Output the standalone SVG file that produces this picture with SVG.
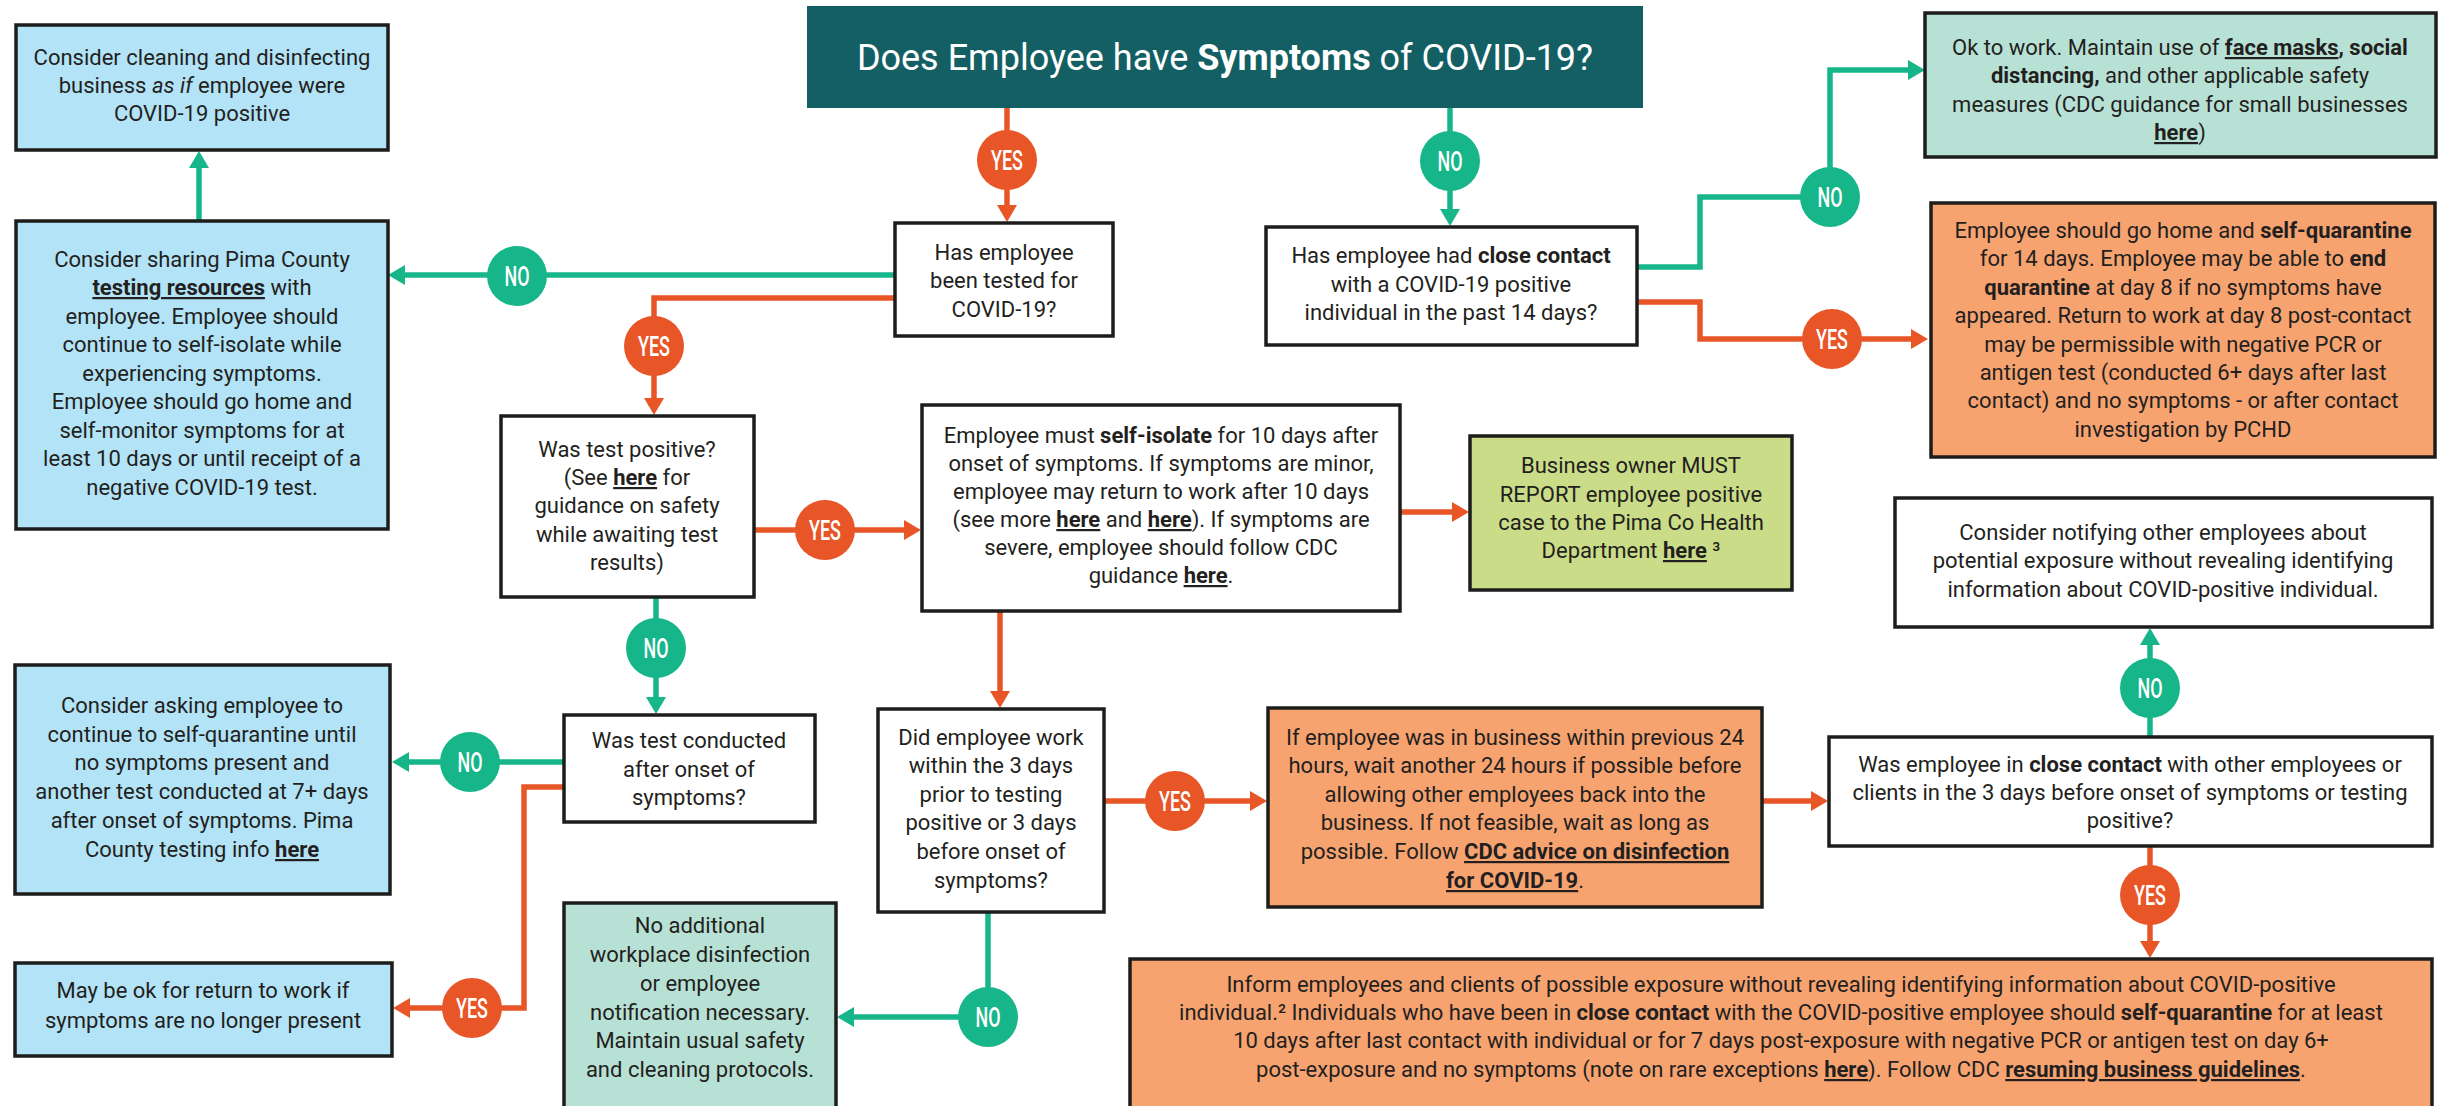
<svg xmlns="http://www.w3.org/2000/svg" width="2451" height="1106" viewBox="0 0 2451 1106">
<style>
  .t{font-family:Roboto,"Liberation Sans",sans-serif;font-size:22px;fill:#231f20;text-anchor:middle}
  .b{font-weight:700}
  .u{text-decoration:underline}
  .i{font-style:italic}
  .box{stroke:#1d1d1b;stroke-width:3.5}
  .white{fill:#ffffff}
  .blue{fill:#b2e3f7}
  .mint{fill:#b8e1d6}
  .salmon{fill:#f6a370}
  .lime{fill:#cbdc88}
  .lnG{fill:none;stroke:#17b68a;stroke-width:5.5}
  .lnO{fill:none;stroke:#e85628;stroke-width:5.5}
  .cG{fill:#17b68a}
  .cO{fill:#e85628}
  .lbl{font-family:Roboto,"Liberation Sans",sans-serif;font-size:27px;font-weight:500;fill:#ffffff;text-anchor:middle}
  .title{font-family:Roboto,"Liberation Sans",sans-serif;font-size:36px;fill:#ffffff;text-anchor:middle}
</style>
<defs>
  <marker id="ahG" markerUnits="userSpaceOnUse" viewBox="0 0 17 20" markerWidth="17" markerHeight="20" refX="1" refY="10" orient="auto">
    <path d="M0,0 L17,10 L0,20 z" fill="#17b68a"/>
  </marker>
  <marker id="ahO" markerUnits="userSpaceOnUse" viewBox="0 0 17 20" markerWidth="17" markerHeight="20" refX="1" refY="10" orient="auto">
    <path d="M0,0 L17,10 L0,20 z" fill="#e85628"/>
  </marker>
</defs>

<rect width="2451" height="1106" fill="#ffffff"/>

<!-- connectors -->
<g id="connectors">
  <path class="lnO" d="M1007,108 V206" marker-end="url(#ahO)"/>
  <path class="lnG" d="M1450,108 V210" marker-end="url(#ahG)"/>
  <path class="lnG" d="M1637,267 H1700 V197 H1830 V70 H1909" marker-end="url(#ahG)"/>
  <path class="lnO" d="M1637,302 H1700 V339 H1912" marker-end="url(#ahO)"/>
  <path class="lnG" d="M895,275 H404" marker-end="url(#ahG)"/>
  <path class="lnO" d="M895,298 H654 V399" marker-end="url(#ahO)"/>
  <path class="lnG" d="M199,221 V167" marker-end="url(#ahG)"/>
  <path class="lnO" d="M754,530 H905" marker-end="url(#ahO)"/>
  <path class="lnG" d="M656,597 V698" marker-end="url(#ahG)"/>
  <path class="lnO" d="M1400,512 H1453" marker-end="url(#ahO)"/>
  <path class="lnO" d="M1000,611 V692" marker-end="url(#ahO)"/>
  <path class="lnG" d="M564,762 H408" marker-end="url(#ahG)"/>
  <path class="lnO" d="M564,787 H524 V1008 H409" marker-end="url(#ahO)"/>
  <path class="lnO" d="M1104,801 H1251" marker-end="url(#ahO)"/>
  <path class="lnG" d="M988,912 V1017 H853" marker-end="url(#ahG)"/>
  <path class="lnO" d="M1762,801 H1812" marker-end="url(#ahO)"/>
  <path class="lnG" d="M2150,737 V644" marker-end="url(#ahG)"/>
  <path class="lnO" d="M2150,846 V942" marker-end="url(#ahO)"/>

  <!-- decision labels -->
  <g><circle class="cO" cx="1007" cy="160" r="30"/><text class="lbl" x="1007" y="170" textLength="32" lengthAdjust="spacingAndGlyphs">YES</text></g>
  <g><circle class="cG" cx="1450" cy="161" r="30"/><text class="lbl" x="1450" y="171" textLength="25" lengthAdjust="spacingAndGlyphs">NO</text></g>
  <g><circle class="cG" cx="1830" cy="197" r="30"/><text class="lbl" x="1830" y="207" textLength="25" lengthAdjust="spacingAndGlyphs">NO</text></g>
  <g><circle class="cO" cx="1832" cy="339" r="30"/><text class="lbl" x="1832" y="349" textLength="32" lengthAdjust="spacingAndGlyphs">YES</text></g>
  <g><circle class="cG" cx="517" cy="276" r="30"/><text class="lbl" x="517" y="286" textLength="25" lengthAdjust="spacingAndGlyphs">NO</text></g>
  <g><circle class="cO" cx="654" cy="346" r="30"/><text class="lbl" x="654" y="356" textLength="32" lengthAdjust="spacingAndGlyphs">YES</text></g>
  <g><circle class="cO" cx="825" cy="530" r="30"/><text class="lbl" x="825" y="540" textLength="32" lengthAdjust="spacingAndGlyphs">YES</text></g>
  <g><circle class="cG" cx="656" cy="648" r="30"/><text class="lbl" x="656" y="658" textLength="25" lengthAdjust="spacingAndGlyphs">NO</text></g>
  <g><circle class="cG" cx="470" cy="762" r="30"/><text class="lbl" x="470" y="772" textLength="25" lengthAdjust="spacingAndGlyphs">NO</text></g>
  <g><circle class="cO" cx="472" cy="1008" r="30"/><text class="lbl" x="472" y="1018" textLength="32" lengthAdjust="spacingAndGlyphs">YES</text></g>
  <g><circle class="cO" cx="1175" cy="801" r="30"/><text class="lbl" x="1175" y="811" textLength="32" lengthAdjust="spacingAndGlyphs">YES</text></g>
  <g><circle class="cG" cx="988" cy="1017" r="30"/><text class="lbl" x="988" y="1027" textLength="25" lengthAdjust="spacingAndGlyphs">NO</text></g>
  <g><circle class="cG" cx="2150" cy="688" r="30"/><text class="lbl" x="2150" y="698" textLength="25" lengthAdjust="spacingAndGlyphs">NO</text></g>
  <g><circle class="cO" cx="2150" cy="895" r="30"/><text class="lbl" x="2150" y="905" textLength="32" lengthAdjust="spacingAndGlyphs">YES</text></g>
</g>

<!-- start question -->
<g id="start">
  <rect x="807" y="6" width="836" height="102" fill="#135f63"/>
  <text class="title" x="1225" y="70">Does Employee have <tspan class="b">Symptoms</tspan> of COVID-19?</text>
</g>

<g id="disinfect-as-if">
  <rect class="box blue" x="16" y="25" width="372" height="125"/>
  <text class="t" x="202" y="65">Consider cleaning and disinfecting</text>
  <text class="t" x="202" y="93">business <tspan class="i">as if</tspan> employee were</text>
  <text class="t" x="202" y="121">COVID-19 positive</text>
</g>

<g id="share-testing">
  <rect class="box blue" x="16" y="221" width="372" height="308"/>
  <text class="t" x="202" y="267">Consider sharing Pima County</text>
  <text class="t" x="202" y="295"><tspan class="b u">testing resources</tspan> with</text>
  <text class="t" x="202" y="324">employee. Employee should</text>
  <text class="t" x="202" y="352">continue to self-isolate while</text>
  <text class="t" x="202" y="381">experiencing symptoms.</text>
  <text class="t" x="202" y="409">Employee should go home and</text>
  <text class="t" x="202" y="438">self-monitor symptoms for at</text>
  <text class="t" x="202" y="466">least 10 days or until receipt of a</text>
  <text class="t" x="202" y="495">negative COVID-19 test.</text>
</g>

<g id="tested">
  <rect class="box white" x="895" y="223" width="218" height="113"/>
  <text class="t" x="1004" y="260">Has employee</text>
  <text class="t" x="1004" y="288">been tested for</text>
  <text class="t" x="1004" y="317">COVID-19?</text>
</g>

<g id="close-contact">
  <rect class="box white" x="1266" y="227" width="371" height="118"/>
  <text class="t" x="1451" y="263">Has employee had <tspan class="b">close contact</tspan></text>
  <text class="t" x="1451" y="292">with a COVID-19 positive</text>
  <text class="t" x="1451" y="320">individual in the past 14 days?</text>
</g>

<g id="ok-to-work">
  <rect class="box mint" x="1925" y="13" width="511" height="144"/>
  <text class="t" x="2180" y="55">Ok to work. Maintain use of <tspan class="b u">face masks</tspan><tspan class="b">, social</tspan></text>
  <text class="t" x="2180" y="83"><tspan class="b">distancing,</tspan> and other applicable safety</text>
  <text class="t" x="2180" y="112">measures (CDC guidance for small businesses</text>
  <text class="t" x="2180" y="140"><tspan class="b u">here</tspan>)</text>
</g>

<g id="self-quarantine">
  <rect class="box salmon" x="1931" y="203" width="504" height="254"/>
  <text class="t" x="2183" y="238">Employee should go home and <tspan class="b">self-quarantine</tspan></text>
  <text class="t" x="2183" y="266">for 14 days. Employee may be able to <tspan class="b">end</tspan></text>
  <text class="t" x="2183" y="295"><tspan class="b">quarantine</tspan> at day 8 if no symptoms have</text>
  <text class="t" x="2183" y="323">appeared. Return to work at day 8 post-contact</text>
  <text class="t" x="2183" y="352">may be permissible with negative PCR or</text>
  <text class="t" x="2183" y="380">antigen test (conducted 6+ days after last</text>
  <text class="t" x="2183" y="408">contact) and no symptoms - or after contact</text>
  <text class="t" x="2183" y="437">investigation by PCHD</text>
</g>

<g id="test-positive">
  <rect class="box white" x="501" y="416" width="253" height="181"/>
  <text class="t" x="627" y="457">Was test positive?</text>
  <text class="t" x="627" y="485">(See <tspan class="b u">here</tspan> for</text>
  <text class="t" x="627" y="513">guidance on safety</text>
  <text class="t" x="627" y="542">while awaiting test</text>
  <text class="t" x="627" y="570">results)</text>
</g>

<g id="self-isolate">
  <rect class="box white" x="922" y="405" width="478" height="206"/>
  <text class="t" x="1161" y="443">Employee must <tspan class="b">self-isolate</tspan> for 10 days after</text>
  <text class="t" x="1161" y="471">onset of symptoms. If symptoms are minor,</text>
  <text class="t" x="1161" y="499">employee may return to work after 10 days</text>
  <text class="t" x="1161" y="527">(see more <tspan class="b u">here</tspan> and <tspan class="b u">here</tspan>). If symptoms are</text>
  <text class="t" x="1161" y="555">severe, employee should follow CDC</text>
  <text class="t" x="1161" y="583">guidance <tspan class="b u">here</tspan>.</text>
</g>

<g id="report">
  <rect class="box lime" x="1470" y="436" width="322" height="154"/>
  <text class="t" x="1631" y="473">Business owner MUST</text>
  <text class="t" x="1631" y="502">REPORT employee positive</text>
  <text class="t" x="1631" y="530">case to the Pima Co Health</text>
  <text class="t" x="1631" y="558">Department <tspan class="b u">here</tspan>  ³</text>
</g>

<g id="after-onset">
  <rect class="box white" x="564" y="715" width="251" height="107"/>
  <text class="t" x="689" y="748">Was test conducted</text>
  <text class="t" x="689" y="777">after onset of</text>
  <text class="t" x="689" y="805">symptoms?</text>
</g>

<g id="retest">
  <rect class="box blue" x="15" y="665" width="375" height="229"/>
  <text class="t" x="202" y="713">Consider asking employee to</text>
  <text class="t" x="202" y="742">continue to self-quarantine until</text>
  <text class="t" x="202" y="770">no symptoms present and</text>
  <text class="t" x="202" y="799">another test conducted at 7+ days</text>
  <text class="t" x="202" y="828">after onset of symptoms. Pima</text>
  <text class="t" x="202" y="857">County testing info <tspan class="b u">here</tspan></text>
</g>

<g id="may-return">
  <rect class="box blue" x="15" y="963" width="377" height="93"/>
  <text class="t" x="203" y="998">May be ok for return to work if</text>
  <text class="t" x="203" y="1028">symptoms are no longer present</text>
</g>

<g id="no-disinfection">
  <rect class="box mint" x="564" y="903" width="272" height="212"/>
  <text class="t" x="700" y="933">No additional</text>
  <text class="t" x="700" y="962">workplace disinfection</text>
  <text class="t" x="700" y="991">or employee</text>
  <text class="t" x="700" y="1020">notification necessary.</text>
  <text class="t" x="700" y="1048">Maintain usual safety</text>
  <text class="t" x="700" y="1077">and cleaning protocols.</text>
</g>

<g id="worked-recently">
  <rect class="box white" x="878" y="709" width="226" height="203"/>
  <text class="t" x="991" y="745">Did employee work</text>
  <text class="t" x="991" y="773">within the 3 days</text>
  <text class="t" x="991" y="802">prior to testing</text>
  <text class="t" x="991" y="830">positive or 3 days</text>
  <text class="t" x="991" y="859">before onset of</text>
  <text class="t" x="991" y="888">symptoms?</text>
</g>

<g id="wait-24h">
  <rect class="box salmon" x="1268" y="708" width="494" height="199"/>
  <text class="t" x="1515" y="745">If employee was in business within previous 24</text>
  <text class="t" x="1515" y="773">hours, wait another 24 hours if possible before</text>
  <text class="t" x="1515" y="802">allowing other employees back into the</text>
  <text class="t" x="1515" y="830">business. If not feasible, wait as long as</text>
  <text class="t" x="1515" y="859">possible. Follow <tspan class="b u">CDC advice on disinfection</tspan></text>
  <text class="t" x="1515" y="888"><tspan class="b u">for COVID-19</tspan>.</text>
</g>

<g id="contact-others">
  <rect class="box white" x="1829" y="737" width="603" height="109"/>
  <text class="t" x="2130" y="772">Was employee in <tspan class="b">close contact</tspan> with other employees or</text>
  <text class="t" x="2130" y="800">clients in the 3 days before onset of symptoms or testing</text>
  <text class="t" x="2130" y="828">positive?</text>
</g>

<g id="notify-optional">
  <rect class="box white" x="1895" y="498" width="537" height="129"/>
  <text class="t" x="2163" y="540">Consider notifying other employees about</text>
  <text class="t" x="2163" y="568">potential exposure without revealing identifying</text>
  <text class="t" x="2163" y="597">information about COVID-positive individual.</text>
</g>

<g id="inform-contacts">
  <rect class="box salmon" x="1130" y="959" width="1302" height="160"/>
  <text class="t" x="1781" y="992">Inform employees and clients of possible exposure without revealing identifying information about COVID-positive</text>
  <text class="t" x="1781" y="1020">individual.² Individuals who have been in <tspan class="b">close contact</tspan> with the COVID-positive employee should <tspan class="b">self-quarantine</tspan> for at least</text>
  <text class="t" x="1781" y="1048">10 days after last contact with individual or for 7 days post-exposure with negative PCR or antigen test on day 6+</text>
  <text class="t" x="1781" y="1077">post-exposure and no symptoms (note on rare exceptions <tspan class="b u">here</tspan>). Follow CDC <tspan class="b u">resuming business guidelines</tspan>.</text>
</g>
</svg>
